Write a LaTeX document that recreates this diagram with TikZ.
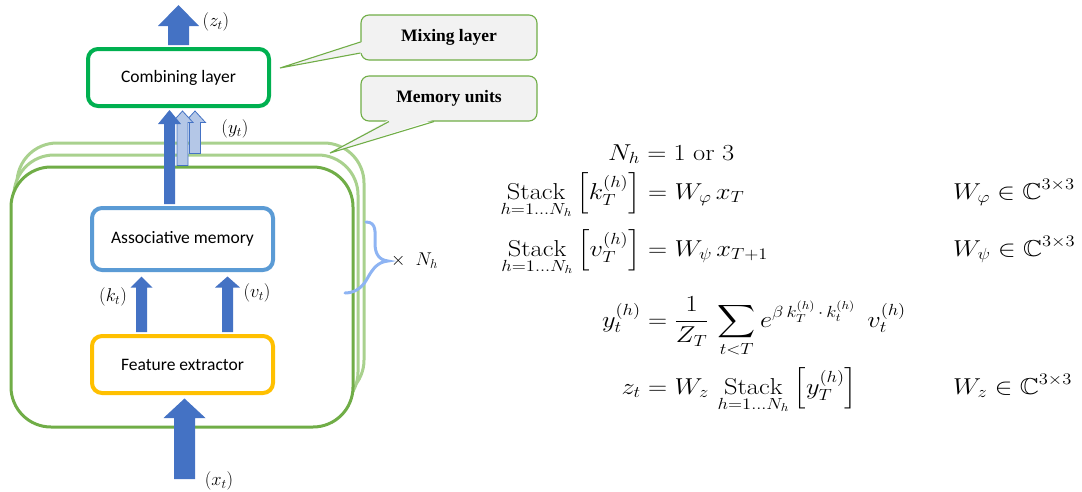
\RequirePackage{fix-cm}
\documentclass[tikz,border=0pt]{standalone}
\usepackage{amsmath,amssymb}
\usepackage{fontspec}
\newfontfamily\boxfont{Carlito}
\newfontfamily\callfont{Liberation Serif}
\usetikzlibrary{calc}

\definecolor{arrowblue}{HTML}{4472C4}
\definecolor{paleblue}{HTML}{B4C7E7}
\definecolor{combgreen}{HTML}{00B050}
\definecolor{memblue}{HTML}{5B9BD5}
\definecolor{featgold}{HTML}{FFC000}
\definecolor{unitgreen}{HTML}{70AD47}
\definecolor{backgreen}{HTML}{A9D18E}
\definecolor{calloutgray}{HTML}{F2F2F2}
\definecolor{bracecol}{HTML}{8EB4F3}

% block arrow: #1 style, #2 point giving x, #3 base, #4 tip,
% #5 half shaft width, #6 half head width, #7 head length
\newcommand\blockarrow[7]{%
  \path[#1] let \p0=(#2), \p1=(#3), \p2=(#4) in
    (\x0-#5,\y1) -- (\x0-#5,\y2-#7) -- (\x0-#6,\y2-#7) -- (\x0,\y2)
    -- (\x0+#6,\y2-#7) -- (\x0+#5,\y2-#7) -- (\x0+#5,\y1) -- cycle;}

% equation text, slightly widened
\newcommand\eqtext[1]{\scalebox{1.15}[1]{$\displaystyle #1$}}

\begin{document}
\begin{tikzpicture}[x=1pt,y=-1pt,
  layerbox/.style={draw, rounded corners=10pt, line width=4pt, fill=white,
    minimum width=181pt, inner sep=0pt,
    font=\boxfont\fontsize{17.5}{20}\selectfont},
  unitbox/.style={draw=backgreen, line width=3pt, fill=white,
    rounded corners=40pt, inner sep=0pt},
  callout/.style={draw=unitgreen, line width=1.1pt, fill=calloutgray,
    rounded corners=8pt, minimum width=176pt, minimum height=45pt,
    font=\callfont\bfseries\fontsize{17.5}{20}\selectfont},
  calloutfill/.style={fill=calloutgray},
  calloutline/.style={draw=unitgreen, line width=1.1pt},
  solidarrow/.style={fill=arrowblue},
  palearrow/.style={fill=paleblue, draw=arrowblue, line width=0.8pt},
  mathlabel/.style={inner sep=0pt, font=\fontsize{18.5}{22}\selectfont},
  eq/.style={inner sep=0pt, font=\fontsize{23}{27}\selectfont},
  lhs/.style={eq, anchor=base east},
  rhs/.style={eq, anchor=base west}]

\useasboundingbox (0,0) rectangle (1082,491);

% stacked memory units
\node[unitbox, minimum width=347pt, minimum height=257pt] (memC) at (190.5,271.5) {};
\node[unitbox, minimum width=344pt, minimum height=257pt] (memB) at (186,283.5) {};
\node[unitbox, draw=unitgreen, minimum width=342pt, minimum height=260pt] (memA) at (182,297) {};

% callouts
\node[callout] (mix) at (449,37.5) {Mixing layer};
\node[callout] (units) at (449,98.5) {Memory units};
\coordinate (mixtip) at (280,68);
\coordinate (unitstip) at (330,153);
\fill[calloutfill] ([shift={(2pt,-4.5pt)}]mix.west) -- (mixtip)
  -- ([shift={(2pt,-15.5pt)}]mix.west) -- cycle;
\draw[calloutline] ([yshift=-4.5pt]mix.west) -- (mixtip) -- ([yshift=-15.5pt]mix.west);
\fill[calloutfill] ([shift={(-60pt,2pt)}]units.south) -- (unitstip)
  -- ([shift={(-15pt,2pt)}]units.south) -- cycle;
\draw[calloutline] ([xshift=-60pt]units.south) -- (unitstip) -- ([xshift=-15pt]units.south);

% processing blocks
\node[layerbox, draw=combgreen, minimum height=57pt] (comb) at (178.5,77.5) {Combining layer};
\node[layerbox, draw=memblue, minimum height=62pt] (assoc) at (182.5,239) {Associative memory};
\node[layerbox, draw=featgold, minimum height=57pt] (feat) at (182.5,364.5) {Feature extractor};

% arrows
\coordinate (ztip) at (178.5,5);
\coordinate (yx) at (169.5,0);
\coordinate (ya) at (182.5,0);
\coordinate (yb) at (195,0);
\coordinate (kx) at (141.5,0);
\coordinate (vx) at (227.5,0);
\coordinate (xin) at (184.5,479);

\blockarrow{solidarrow}{comb}{[yshift=2pt]comb.north}{ztip}{10.5pt}{20.5pt}{21pt}
\blockarrow{palearrow}{yb}{memB.north}{[yshift=-3pt]comb.south}{5.5pt}{10.5pt}{11.5pt}
\blockarrow{palearrow}{ya}{memA.north}{[yshift=-3pt]comb.south}{5.5pt}{10.5pt}{11.5pt}
\blockarrow{solidarrow}{yx}{[yshift=2pt]assoc.north}{[yshift=-2pt]comb.south}{5.5pt}{11.5pt}{14pt}
\blockarrow{solidarrow}{kx}{[yshift=2pt]feat.north}{[yshift=-4.5pt]assoc.south}{5.5pt}{11pt}{11pt}
\blockarrow{solidarrow}{vx}{[yshift=2pt]feat.north}{[yshift=-4.5pt]assoc.south}{5.5pt}{12.5pt}{11pt}
\blockarrow{solidarrow}{xin}{xin}{[yshift=-3.5pt]feat.south}{10.5pt}{21pt}{19.5pt}

% signal labels
\node[mathlabel] (zlab) at (216,22) {$(z_t)$};
\node[mathlabel] (ylab) at (235,129) {$(y_t)$};
\node[mathlabel] (klab) at (113,297) {$(k_t)$};
\node[mathlabel] (vlab) at (257,293) {$(v_t)$};
\node[mathlabel] (xlab) at (219,481) {$(x_t)$};

% brace for the number of memory units
\draw[bracecol, line width=3pt, line cap=round]
  (366,222) .. controls (377,222) and (375,233) .. (375,243)
  .. controls (375,254) and (379,260) .. (388,261)
  .. controls (378,262) and (373,268) .. (367,279)
  .. controls (361,290) and (352,293) .. (345,293);
\node[mathlabel, anchor=west] (nhlab) at (391,261) {$\times\hspace{10pt}N_h$};

% equations
\node[rhs] (r1) at (608,160) {\eqtext{N_h=1\;\mathrm{or}\;3}};

\node[lhs] (r2l) at (641,199) {\eqtext{\operatorname*{Stack}_{h=1\ldots N_h}\left[k_T^{(h)}\right]}};
\node[rhs] (r2r) at (648,199) {\eqtext{=W_\varphi\,x_T}};
\node[rhs] (r2w) at (953,199) {\eqtext{W_\varphi\in\mathbb{C}^{3\times3}}};

\node[lhs] (r3l) at (641,256) {\eqtext{\operatorname*{Stack}_{h=1\ldots N_h}\left[v_T^{(h)}\right]}};
\node[rhs] (r3r) at (648,256) {\eqtext{=W_\psi\,x_{T+1}}};
\node[rhs] (r3w) at (953,256) {\eqtext{W_\psi\in\mathbb{C}^{3\times3}}};

\node[lhs] (r4l) at (641,327) {\eqtext{y_t^{(h)}}};
\node[rhs] (r4r) at (648,327) {\eqtext{=\frac{1}{Z_T}\,\sum_{t<T} e^{\beta\,k_T^{(h)}\,\cdot\,k_t^{(h)}}\;\,v_t^{(h)}}};

\node[lhs] (r5l) at (641,394) {\eqtext{z_t}};
\node[rhs] (r5r) at (648,394) {\eqtext{=W_z\,\operatorname*{Stack}_{h=1\ldots N_h}\left[y_T^{(h)}\right]}};
\node[rhs] (r5w) at (953,394) {\eqtext{W_z\in\mathbb{C}^{3\times3}}};

\end{tikzpicture}
\end{document}
